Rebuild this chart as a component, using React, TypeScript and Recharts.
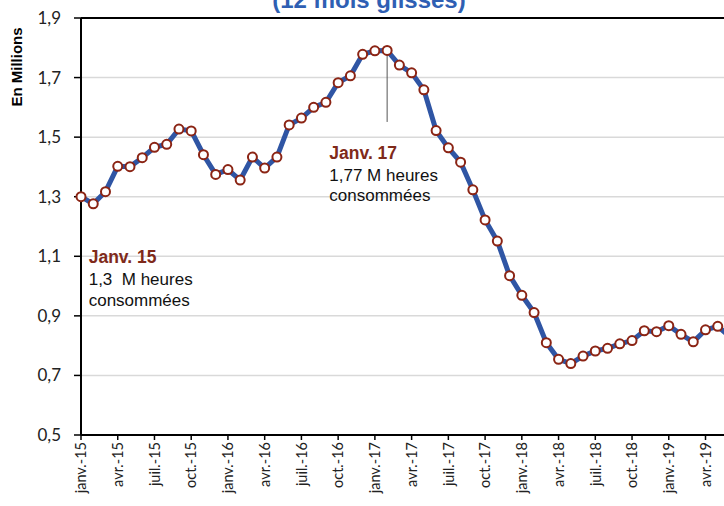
import React from 'react';
import { LineChart, Line, XAxis, YAxis, CartesianGrid, ReferenceLine } from 'recharts';

const monthNames = ['janv.', 'févr.', 'mars', 'avr.', 'mai', 'juin', 'juil.', 'août', 'sept.', 'oct.', 'nov.', 'déc.'];
const years = ['15', '16', '17', '18', '19'];

const values2015 = [1.300, 1.276, 1.317, 1.402, 1.401, 1.431, 1.466, 1.476, 1.527, 1.521, 1.441, 1.375];
const values2016 = [1.391, 1.356, 1.433, 1.396, 1.433, 1.541, 1.564, 1.600, 1.617, 1.683, 1.706, 1.778];
const values2017 = [1.790, 1.791, 1.742, 1.716, 1.659, 1.522, 1.464, 1.416, 1.323, 1.222, 1.151, 1.035];
const values2018 = [0.969, 0.911, 0.810, 0.754, 0.740, 0.765, 0.782, 0.791, 0.806, 0.817, 0.850, 0.847];
const values2019 = [0.867, 0.838, 0.813, 0.853, 0.865, 0.830];

const yTicks = [0.5, 0.7, 0.9, 1.1, 1.3, 1.5, 1.7, 1.9];

const allValues = [...values2015, ...values2016, ...values2017, ...values2018, ...values2019];
const data = allValues.map((v, i) => ({
  month: `${monthNames[i % 12]}-${years[Math.floor(i / 12)]}`,
  value: v,
}));

const annotationMonth = 'févr.-17';
const annotationTop = 1.791;
const annotationBottom = 1.551;

const XTick = (props: any) => {
  const { x, y, payload } = props;
  return (
    <text
      x={x}
      y={y}
      transform={`rotate(-90, ${x}, ${y})`}
      textAnchor="end"
      dy="0.36em"
      fontSize={14.5}
      fontFamily="Lato, sans-serif"
      fill="#222"
    >
      {payload.value}
    </text>
  );
};

export default function App() {
  return (
    <div style={{ position: 'absolute', left: 0, top: 0, width: 724, height: 506, overflow: 'hidden', background: '#fff' }}>
      <LineChart
        width={740}
        height={506}
        data={data}
        margin={{ top: 18, right: 10, bottom: 11, left: 31 }}
        style={{ position: 'absolute', left: 0, top: 0 }}
      >
        <CartesianGrid horizontal vertical={false} stroke="#d9d9d9" strokeWidth={1.5} />
        <XAxis
          dataKey="month"
          interval={2}
          height={60}
          tick={<XTick />}
          tickSize={5}
          tickMargin={2}
          axisLine={{ stroke: '#000', strokeWidth: 2 }}
          tickLine={{ stroke: '#000', strokeWidth: 1.5 }}
        />
        <YAxis
          width={50}
          domain={[0.5, 1.9]}
          ticks={yTicks}
          tickFormatter={(v: number) => v.toFixed(1).replace('.', ',')}
          tick={{ fontSize: 17, fontFamily: 'Lato, sans-serif', fill: '#222' }}
          tickSize={7}
          tickMargin={13}
          axisLine={{ stroke: '#000', strokeWidth: 2 }}
          tickLine={{ stroke: '#000', strokeWidth: 1.5 }}
        />
        <ReferenceLine y={1.9} stroke="#000" strokeWidth={2} />
        <ReferenceLine
          segment={[
            { x: annotationMonth, y: annotationTop },
            { x: annotationMonth, y: annotationBottom },
          ]}
          stroke="#555"
          strokeWidth={1}
        />
        <Line
          type="linear"
          dataKey="value"
          stroke="#2F55A4"
          strokeWidth={5}
          dot={{ r: 4.5, fill: '#fff', stroke: '#8B2414', strokeWidth: 2 }}
          isAnimationActive={false}
        />
      </LineChart>
      <svg width={724} height={506} style={{ position: 'absolute', left: 0, top: 0, pointerEvents: 'none' }}>
        <text x={369} y={8} textAnchor="middle" fontSize={24} fontWeight="bold" fontFamily="'Liberation Sans', Arial, sans-serif" fill="#2F5FB3">
          (12 mois glissés)
        </text>
        <text
          x={22}
          y={67}
          transform="rotate(-90, 22, 67)"
          textAnchor="middle"
          fontSize={15}
          fontWeight="bold"
          fontFamily="'Liberation Sans', Arial, sans-serif"
          fill="#000"
        >
          En Millions
        </text>
        <g fontFamily="'Liberation Sans', Arial, sans-serif" fontSize={17}>
          <text x={88.7} y={263.3} fontWeight="bold" fontSize={17.5} fill="#7F2A1A">Janv. 15</text>
          <text x={88.7} y={285} fill="#111" style={{ whiteSpace: 'pre' }}>1,3  M heures</text>
          <text x={88.7} y={305.5} fill="#111">consommées</text>
          <text x={329.3} y={158.7} fontWeight="bold" fontSize={17.5} fill="#7F2A1A">Janv. 17</text>
          <text x={329.3} y={180.5} fill="#111">1,77 M heures</text>
          <text x={329.3} y={200.5} fill="#111">consommées</text>
        </g>
      </svg>
    </div>
  );
}
